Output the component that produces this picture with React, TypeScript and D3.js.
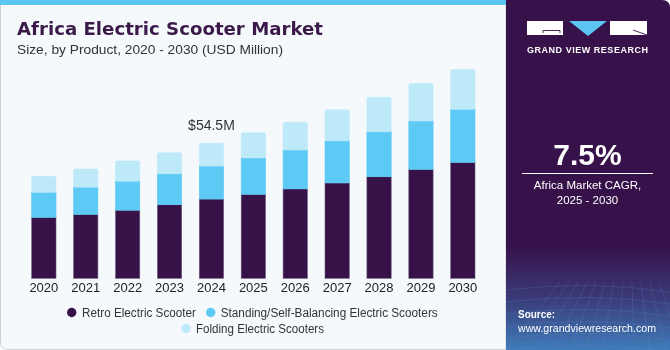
import React from 'react'
import * as d3 from 'd3'

const years = ['2020', '2021', '2022', '2023', '2024', '2025', '2026', '2027', '2028', '2029', '2030']
const retro = [24.6, 25.8, 27.5, 29.7, 32.0, 33.9, 36.1, 38.5, 41.0, 44.0, 46.8]
const standing = [10.1, 11.0, 11.7, 12.5, 13.3, 14.7, 15.7, 17.0, 18.2, 19.5, 21.4]
const folding = [6.5, 7.3, 8.2, 8.5, 9.2, 10.2, 11.2, 12.5, 13.9, 15.1, 16.1]
const seriesKeys = ['retro', 'standing', 'folding']
const seriesNames = ['Retro Electric Scooter', 'Standing/Self-Balancing Electric Scooters', 'Folding Electric Scooters']
const colors = ['#371248', '#5ccaf5', '#bde9f9']
const callout = { year: '2024', label: '$54.5M' }

const W = 670
const H = 350
const font = '"Liberation Sans", Arial, sans-serif'

export default function App() {
  const rows = years.map((y, i) => ({ year: y, retro: retro[i], standing: standing[i], folding: folding[i] }))
  const stacked = d3.stack<any>().keys(seriesKeys)(rows)

  const x = d3.scaleBand().domain(years).range([22.9, 483.8]).paddingInner(0.42).paddingOuter(0.21)
  const y = d3.scaleLinear().domain([0, 70]).range([278.3, 104.9])

  const calloutTotal = rows.find(r => r.year === callout.year)!
  const calloutY = y(calloutTotal.retro + calloutTotal.standing + calloutTotal.folding)

  return (
    <div style={{ position: 'fixed', left: 0, top: 0 }}>
      <svg width={W} height={H} style={{ display: 'block' }}>
        <defs>
          <linearGradient id="side" x1="0" y1="0" x2="0" y2="1">
            <stop offset="0" stopColor="#37114a" />
            <stop offset="0.7" stopColor="#37114a" />
            <stop offset="0.85" stopColor="#3a3a78" />
            <stop offset="1" stopColor="#3f7cba" />
          </linearGradient>
        </defs>

        {/* left panel */}
        <path d={`M0.5,0 H506 V349.5 H8 Q0.5,349.5 0.5,342 Z`} fill="#f5f9fc" stroke="#cfd3d8" strokeWidth={1} />
        <rect x={0} y={0} width={506} height={5} fill="#5bc4f0" />

        <text x={17} y={35} fontFamily='"DejaVu Sans", sans-serif' fontWeight="bold" fontSize={18} fill="#3b1a4a"
          textLength={306} lengthAdjust="spacingAndGlyphs">Africa Electric Scooter Market</text>
        <text x={17} y={54} fontFamily={font} fontSize={13.5} fill="#333" textLength={266} lengthAdjust="spacingAndGlyphs">
          Size, by Product, 2020 - 2030 (USD Million)
        </text>

        {/* bars */}
        {stacked.map((s, si) => (
          <g key={s.key}>
            {s.map((d: any) => (
              <rect key={d.data.year}
                x={x(d.data.year)}
                y={y(d[1])}
                width={x.bandwidth()}
                height={y(d[0]) - y(d[1])}
                fill={colors[si]}
                stroke={si === 0 ? '#6d5b7c' : colors[si]}
                strokeWidth={0.6}
                rx={si === 2 ? 1.5 : 0}
              />
            ))}
          </g>
        ))}

        <text x={x(callout.year)! + x.bandwidth() / 2} y={calloutY - 13} textAnchor="middle"
          fontFamily={font} fontSize={14} fill="#333">{callout.label}</text>

        {years.map(yr => (
          <text key={yr} x={x(yr)! + x.bandwidth() / 2} y={292} textAnchor="middle"
            fontFamily={font} fontSize={13} fill="#222">{yr}</text>
        ))}

        {/* legend */}
        <g fontFamily={font} fontSize={12} fill="#333">
          <circle cx={71.7} cy={312.5} r={4.7} fill={colors[0]} />
          <text x={82} y={317} textLength={114} lengthAdjust="spacingAndGlyphs">{seriesNames[0]}</text>
          <circle cx={210.7} cy={312.5} r={4.7} fill={colors[1]} />
          <text x={220.7} y={317} textLength={217} lengthAdjust="spacingAndGlyphs">{seriesNames[1]}</text>
          <circle cx={186} cy={328.5} r={4.7} fill={colors[2]} />
          <text x={196} y={333} textLength={128} lengthAdjust="spacingAndGlyphs">{seriesNames[2]}</text>
        </g>

        {/* right panel */}
        <path d={`M506,0 H662 Q670,0 670,8 V350 H506 Z`} fill="url(#side)" />
        <g stroke="#6a8fc8" strokeOpacity={0.35} strokeWidth={0.6} fill="none">
          {d3.range(0, 12).map(i => (
            <path key={'a' + i} d={`M${506 + i * 16},350 L${560 + i * 9},282`} />
          ))}
          {d3.range(0, 6).map(i => (
            <path key={'b' + i} d={`M506,${290 + i * 12} Q590,${280 + i * 12} 670,${292 + i * 12}`} />
          ))}
        </g>

        {/* logo */}
        <rect x={527} y={21} width={36} height={14} fill="#fff" />
        <path d="M543,33 V30.5 H560 V33" fill="none" stroke="#37114a" strokeWidth={0.9} />
        <polygon points="569,21 607,21 588,36" fill="#5bc4f0" />
        <rect x={610} y={21} width={37} height={14} fill="#fff" />
        <path d="M633,30 L647,35" stroke="#37114a" strokeWidth={0.9} />
        <text x={587.5} y={53} textAnchor="middle" fontFamily={font} fontWeight="bold" fontSize={9}
          fill="#fff" textLength={121} lengthAdjust="spacing">GRAND VIEW RESEARCH</text>

        <text x={587.5} y={165} textAnchor="middle" fontFamily={font} fontWeight="bold" fontSize={30} fill="#fff">7.5%</text>
        <line x1={522} x2={653} y1={173.5} y2={173.5} stroke="#fff" strokeWidth={1} />
        <text x={587.5} y={189} textAnchor="middle" fontFamily={font} fontSize={11.5} fill="#fff">Africa Market CAGR,</text>
        <text x={587.5} y={204} textAnchor="middle" fontFamily={font} fontSize={11.5} fill="#fff">2025 - 2030</text>

        <text x={518} y={318} fontFamily={font} fontWeight="bold" fontSize={11} fill="#fff"
          textLength={37} lengthAdjust="spacingAndGlyphs">Source:</text>
        <text x={518} y={332} fontFamily={font} fontSize={11} fill="#fff"
          textLength={138} lengthAdjust="spacingAndGlyphs">www.grandviewresearch.com</text>
      </svg>
    </div>
  )
}
